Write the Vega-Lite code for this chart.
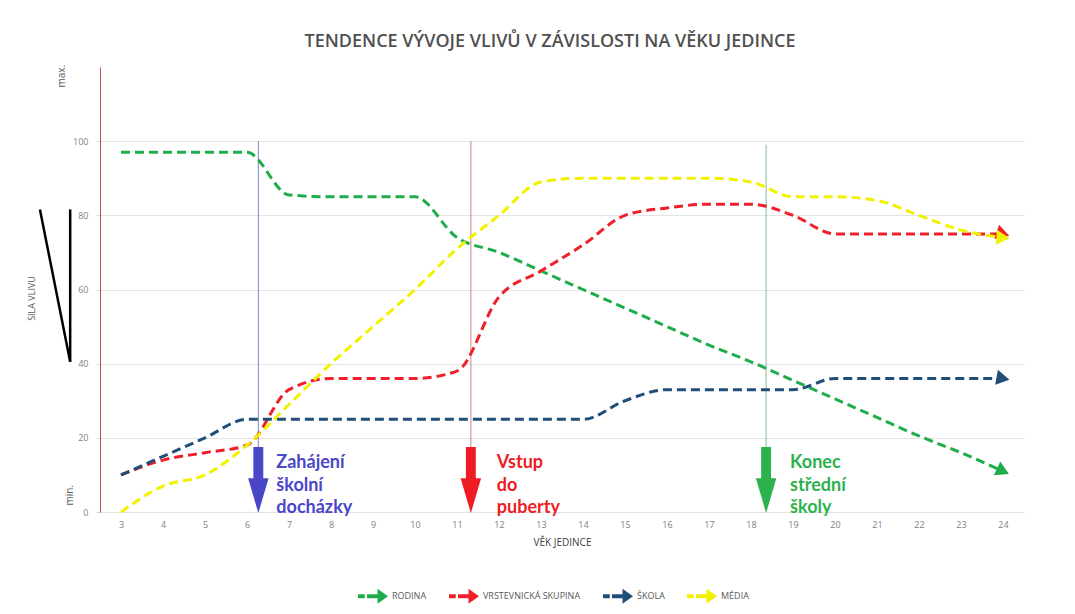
{
  "$schema": "https://vega.github.io/schema/vega-lite/v6.json",
  "autosize": "none",
  "width": 924,
  "height": 445,
  "padding": {"left": 100, "top": 67, "right": 51, "bottom": 102},
  "background": "white",
  "title": {
    "text": "TENDENCE VÝVOJE VLIVŮ V ZÁVISLOSTI NA VĚKU JEDINCE",
    "font": "Open Sans",
    "fontSize": 18,
    "fontWeight": 600,
    "color": "#505050",
    "anchor": "middle",
    "dx": -12,
    "offset": 14
  },
  "config": {
    "view": {"stroke": null},
    "axis": {"labelFont": "Open Sans", "titleFont": "Open Sans"},
    "text": {"font": "Lato"}
  },
  "datasets": {
    "series": [
      {"age": 3, "value": 97, "series": "RODINA"},
      {"age": 4, "value": 97, "series": "RODINA"},
      {"age": 5, "value": 97, "series": "RODINA"},
      {"age": 6, "value": 97, "series": "RODINA"},
      {"age": 7, "value": 85.5, "series": "RODINA"},
      {"age": 8, "value": 85, "series": "RODINA"},
      {"age": 9, "value": 85, "series": "RODINA"},
      {"age": 10, "value": 85, "series": "RODINA"},
      {"age": 11, "value": 74, "series": "RODINA"},
      {"age": 12, "value": 70, "series": "RODINA"},
      {"age": 13, "value": 65, "series": "RODINA"},
      {"age": 14, "value": 60, "series": "RODINA"},
      {"age": 15, "value": 55, "series": "RODINA"},
      {"age": 16, "value": 50, "series": "RODINA"},
      {"age": 17, "value": 45, "series": "RODINA"},
      {"age": 18, "value": 40.5, "series": "RODINA"},
      {"age": 19, "value": 35.5, "series": "RODINA"},
      {"age": 20, "value": 30.5, "series": "RODINA"},
      {"age": 21, "value": 25.5, "series": "RODINA"},
      {"age": 22, "value": 20.5, "series": "RODINA"},
      {"age": 23, "value": 16, "series": "RODINA"},
      {"age": 24, "value": 11, "series": "RODINA"},
      {"age": 3, "value": 10, "series": "VRSTEVNICKÁ SKUPINA"},
      {"age": 4, "value": 14, "series": "VRSTEVNICKÁ SKUPINA"},
      {"age": 5, "value": 16, "series": "VRSTEVNICKÁ SKUPINA"},
      {"age": 6, "value": 18, "series": "VRSTEVNICKÁ SKUPINA"},
      {"age": 7, "value": 33, "series": "VRSTEVNICKÁ SKUPINA"},
      {"age": 8, "value": 36, "series": "VRSTEVNICKÁ SKUPINA"},
      {"age": 9, "value": 36, "series": "VRSTEVNICKÁ SKUPINA"},
      {"age": 10, "value": 36, "series": "VRSTEVNICKÁ SKUPINA"},
      {"age": 11, "value": 38, "series": "VRSTEVNICKÁ SKUPINA"},
      {"age": 12, "value": 58, "series": "VRSTEVNICKÁ SKUPINA"},
      {"age": 13, "value": 65, "series": "VRSTEVNICKÁ SKUPINA"},
      {"age": 14, "value": 72, "series": "VRSTEVNICKÁ SKUPINA"},
      {"age": 15, "value": 80, "series": "VRSTEVNICKÁ SKUPINA"},
      {"age": 16, "value": 82, "series": "VRSTEVNICKÁ SKUPINA"},
      {"age": 17, "value": 83, "series": "VRSTEVNICKÁ SKUPINA"},
      {"age": 18, "value": 83, "series": "VRSTEVNICKÁ SKUPINA"},
      {"age": 19, "value": 80, "series": "VRSTEVNICKÁ SKUPINA"},
      {"age": 20, "value": 75, "series": "VRSTEVNICKÁ SKUPINA"},
      {"age": 21, "value": 75, "series": "VRSTEVNICKÁ SKUPINA"},
      {"age": 22, "value": 75, "series": "VRSTEVNICKÁ SKUPINA"},
      {"age": 23, "value": 75, "series": "VRSTEVNICKÁ SKUPINA"},
      {"age": 24, "value": 75, "series": "VRSTEVNICKÁ SKUPINA"},
      {"age": 3, "value": 10, "series": "ŠKOLA"},
      {"age": 4, "value": 15, "series": "ŠKOLA"},
      {"age": 5, "value": 20, "series": "ŠKOLA"},
      {"age": 6, "value": 25, "series": "ŠKOLA"},
      {"age": 7, "value": 25, "series": "ŠKOLA"},
      {"age": 8, "value": 25, "series": "ŠKOLA"},
      {"age": 9, "value": 25, "series": "ŠKOLA"},
      {"age": 10, "value": 25, "series": "ŠKOLA"},
      {"age": 11, "value": 25, "series": "ŠKOLA"},
      {"age": 12, "value": 25, "series": "ŠKOLA"},
      {"age": 13, "value": 25, "series": "ŠKOLA"},
      {"age": 14, "value": 25, "series": "ŠKOLA"},
      {"age": 15, "value": 30, "series": "ŠKOLA"},
      {"age": 16, "value": 33, "series": "ŠKOLA"},
      {"age": 17, "value": 33, "series": "ŠKOLA"},
      {"age": 18, "value": 33, "series": "ŠKOLA"},
      {"age": 19, "value": 33, "series": "ŠKOLA"},
      {"age": 20, "value": 36, "series": "ŠKOLA"},
      {"age": 21, "value": 36, "series": "ŠKOLA"},
      {"age": 22, "value": 36, "series": "ŠKOLA"},
      {"age": 23, "value": 36, "series": "ŠKOLA"},
      {"age": 24, "value": 36, "series": "ŠKOLA"},
      {"age": 3, "value": 0, "series": "MÉDIA"},
      {"age": 4, "value": 7, "series": "MÉDIA"},
      {"age": 5, "value": 10, "series": "MÉDIA"},
      {"age": 6, "value": 18, "series": "MÉDIA"},
      {"age": 7, "value": 29, "series": "MÉDIA"},
      {"age": 8, "value": 40, "series": "MÉDIA"},
      {"age": 9, "value": 50, "series": "MÉDIA"},
      {"age": 10, "value": 60, "series": "MÉDIA"},
      {"age": 11, "value": 71, "series": "MÉDIA"},
      {"age": 12, "value": 80, "series": "MÉDIA"},
      {"age": 13, "value": 89, "series": "MÉDIA"},
      {"age": 14, "value": 90, "series": "MÉDIA"},
      {"age": 15, "value": 90, "series": "MÉDIA"},
      {"age": 16, "value": 90, "series": "MÉDIA"},
      {"age": 17, "value": 90, "series": "MÉDIA"},
      {"age": 18, "value": 89, "series": "MÉDIA"},
      {"age": 19, "value": 85, "series": "MÉDIA"},
      {"age": 20, "value": 85, "series": "MÉDIA"},
      {"age": 21, "value": 84, "series": "MÉDIA"},
      {"age": 22, "value": 80, "series": "MÉDIA"},
      {"age": 23, "value": 76, "series": "MÉDIA"},
      {"age": 24, "value": 74, "series": "MÉDIA"}
    ],
    "milestones": [
      {"age": 6.27, "top": 100, "bottom": 17.5, "arrow": 8.6, "text": 15.6, "event": "Zahájení|školní|docházky", "kind": "school"},
      {"age": 11.33, "top": 100, "bottom": 17.5, "arrow": 8.6, "text": 15.6, "event": "Vstup|do|puberty", "kind": "puberty"},
      {"age": 18.36, "top": 99, "bottom": 17.5, "arrow": 8.6, "text": 15.6, "event": "Konec|střední|školy", "kind": "end"}
    ],
    "strokes": [
      {"x": 1.07, "y": 81.6, "x2": 1.79, "y2": 40.5},
      {"x": 1.79, "y": 81.6, "x2": 1.79, "y2": 40.5}
    ],
    "notes": [
      {"age": 1.6, "value": 117.5, "label": "max."},
      {"age": 1.79, "value": 4.5, "label": "min."}
    ]
  },
  "encoding": {
    "x": {
      "field": "age", "type": "quantitative",
      "scale": {"domain": [2.5, 24.5], "nice": false, "zero": false},
      "axis": {
        "values": [3,4,5,6,7,8,9,10,11,12,13,14,15,16,17,18,19,20,21,22,23,24],
        "title": "VĚK JEDINCE", "domain": false, "ticks": false, "grid": false,
        "labelFontSize": 9, "labelColor": "#7f7f7f", "labelPadding": 8,
        "titleFontSize": 10, "titleFontWeight": "normal", "titleColor": "#404040", "titlePadding": 8
      }
    },
    "y": {
      "field": "value", "type": "quantitative",
      "scale": {"domain": [0, 120], "nice": false},
      "axis": {
        "values": [0, 20, 40, 60, 80, 100],
        "title": "SILA VLIVU", "titleFontSize": 9, "titleFontWeight": "normal", "titleColor": "#595959",
        "titleX": -64, "titleY": 231, "titleAngle": 270,
        "labelFontSize": 9, "labelColor": "#7f7f7f", "labelPadding": 8,
        "domainColor": "#c0504d", "domainWidth": 1,
        "ticks": true, "tickColor": "#d9d9d9", "tickSize": 4,
        "gridColor": "#e3e3e3", "gridWidth": 1
      }
    }
  },
  "layer": [
    {
      "data": {"name": "strokes"},
      "mark": {"type": "rule", "color": "black", "strokeWidth": 2.5},
      "encoding": {
        "x": {"field": "x", "type": "quantitative"},
        "x2": {"field": "x2"},
        "y": {"field": "y", "type": "quantitative"},
        "y2": {"field": "y2"}
      }
    },
    {
      "data": {"name": "notes"},
      "mark": {"type": "text", "angle": 270, "fontSize": 10, "color": "#595959", "font": "Open Sans"},
      "encoding": {"text": {"field": "label"}}
    },
    {
      "data": {"name": "milestones"},
      "mark": {"type": "rule", "strokeWidth": 1, "color": "#8080c8"},
      "transform": [{"filter": "datum.kind == 'school'"}],
      "encoding": {"y": {"field": "top", "type": "quantitative"}, "y2": {"field": "bottom"}}
    },
    {
      "data": {"name": "milestones"},
      "mark": {"type": "rule", "strokeWidth": 1, "color": "#d08080"},
      "transform": [{"filter": "datum.kind == 'puberty'"}],
      "encoding": {"y": {"field": "top", "type": "quantitative"}, "y2": {"field": "bottom"}}
    },
    {
      "data": {"name": "milestones"},
      "mark": {"type": "rule", "strokeWidth": 1, "color": "#88b890"},
      "transform": [{"filter": "datum.kind == 'end'"}],
      "encoding": {"y": {"field": "top", "type": "quantitative"}, "y2": {"field": "bottom"}}
    },
    {
      "data": {"name": "series"},
      "mark": {"type": "line", "strokeDash": [9, 5], "strokeWidth": 3, "interpolate": "monotone"},
      "encoding": {
        "color": {
          "field": "series", "type": "nominal",
          "sort": ["RODINA", "VRSTEVNICKÁ SKUPINA", "ŠKOLA", "MÉDIA"],
          "scale": {"domain": ["RODINA", "VRSTEVNICKÁ SKUPINA", "ŠKOLA", "MÉDIA"], "range": ["#1fad4c", "#f0202a", "#1f4e79", "#f2f200"]},
          "legend": {
            "orient": "none", "legendX": 258, "legendY": 514, "direction": "horizontal",
            "title": null,
            "symbolType": "M-1,-0.14 L-0.55,-0.14 L-0.55,0.14 L-1,0.14 Z M-0.4,-0.14 L0.3,-0.14 L0.3,-0.5 L1,0 L0.3,0.5 L0.3,0.14 L-0.4,0.14 Z",
            "symbolSize": 900, "symbolStrokeWidth": 0,
            "labelFont": "Open Sans", "labelFontSize": 9, "labelColor": "#595959",
            "columnPadding": 22, "labelOffset": 4,
            "encode": {"symbols": {"update": {"fill": {"scale": "color", "field": "value"}, "strokeWidth": {"value": 0}, "opacity": {"value": 1}}}}
          }
        }
      }
    },
    {
      "data": {"name": "series"},
      "transform": [{"filter": "datum.age == 24"}],
      "mark": {"type": "point", "filled": true, "opacity": 1, "size": 230, "shape": "triangle-right"},
      "encoding": {
        "color": {"field": "series", "type": "nominal"},
        "angle": {
          "field": "series", "type": "nominal", "legend": null,
          "scale": {"domain": ["RODINA", "VRSTEVNICKÁ SKUPINA", "ŠKOLA", "MÉDIA"], "range": [25, 3, 0, 3]}
        }
      }
    },
    {
      "data": {"name": "milestones"},
      "transform": [{"filter": "datum.kind == 'school'"}],
      "layer": [
        {"mark": {"type": "point", "filled": true, "opacity": 1, "size": 4356, "color": "#4a46c8",
          "shape": "M-0.15,-1 L0.15,-1 L0.15,-0.06 L0.31,-0.06 L0,1 L-0.31,-0.06 L-0.15,-0.06 Z"},
          "encoding": {"y": {"field": "arrow", "type": "quantitative"}}},
        {"mark": {"type": "text", "align": "left", "baseline": "top", "dx": 18, "fontSize": 18, "fontWeight": "bold", "lineHeight": 22.5, "lineBreak": "|", "color": "#4a46c8"},
          "encoding": {"y": {"field": "text", "type": "quantitative"}, "text": {"field": "event"}}}
      ]
    },
    {
      "data": {"name": "milestones"},
      "transform": [{"filter": "datum.kind == 'puberty'"}],
      "layer": [
        {"mark": {"type": "point", "filled": true, "opacity": 1, "size": 4356, "color": "#ee1c24",
          "shape": "M-0.15,-1 L0.15,-1 L0.15,-0.06 L0.31,-0.06 L0,1 L-0.31,-0.06 L-0.15,-0.06 Z"},
          "encoding": {"y": {"field": "arrow", "type": "quantitative"}}},
        {"mark": {"type": "text", "align": "left", "baseline": "top", "dx": 26, "fontSize": 18, "fontWeight": "bold", "lineHeight": 22.5, "lineBreak": "|", "color": "#ee1c24"},
          "encoding": {"y": {"field": "text", "type": "quantitative"}, "text": {"field": "event"}}}
      ]
    },
    {
      "data": {"name": "milestones"},
      "transform": [{"filter": "datum.kind == 'end'"}],
      "layer": [
        {"mark": {"type": "point", "filled": true, "opacity": 1, "size": 4356, "color": "#2bb24c",
          "shape": "M-0.15,-1 L0.15,-1 L0.15,-0.06 L0.31,-0.06 L0,1 L-0.31,-0.06 L-0.15,-0.06 Z"},
          "encoding": {"y": {"field": "arrow", "type": "quantitative"}}},
        {"mark": {"type": "text", "align": "left", "baseline": "top", "dx": 24, "fontSize": 18, "fontWeight": "bold", "lineHeight": 22.5, "lineBreak": "|", "color": "#2bb24c"},
          "encoding": {"y": {"field": "text", "type": "quantitative"}, "text": {"field": "event"}}}
      ]
    }
  ]
}
